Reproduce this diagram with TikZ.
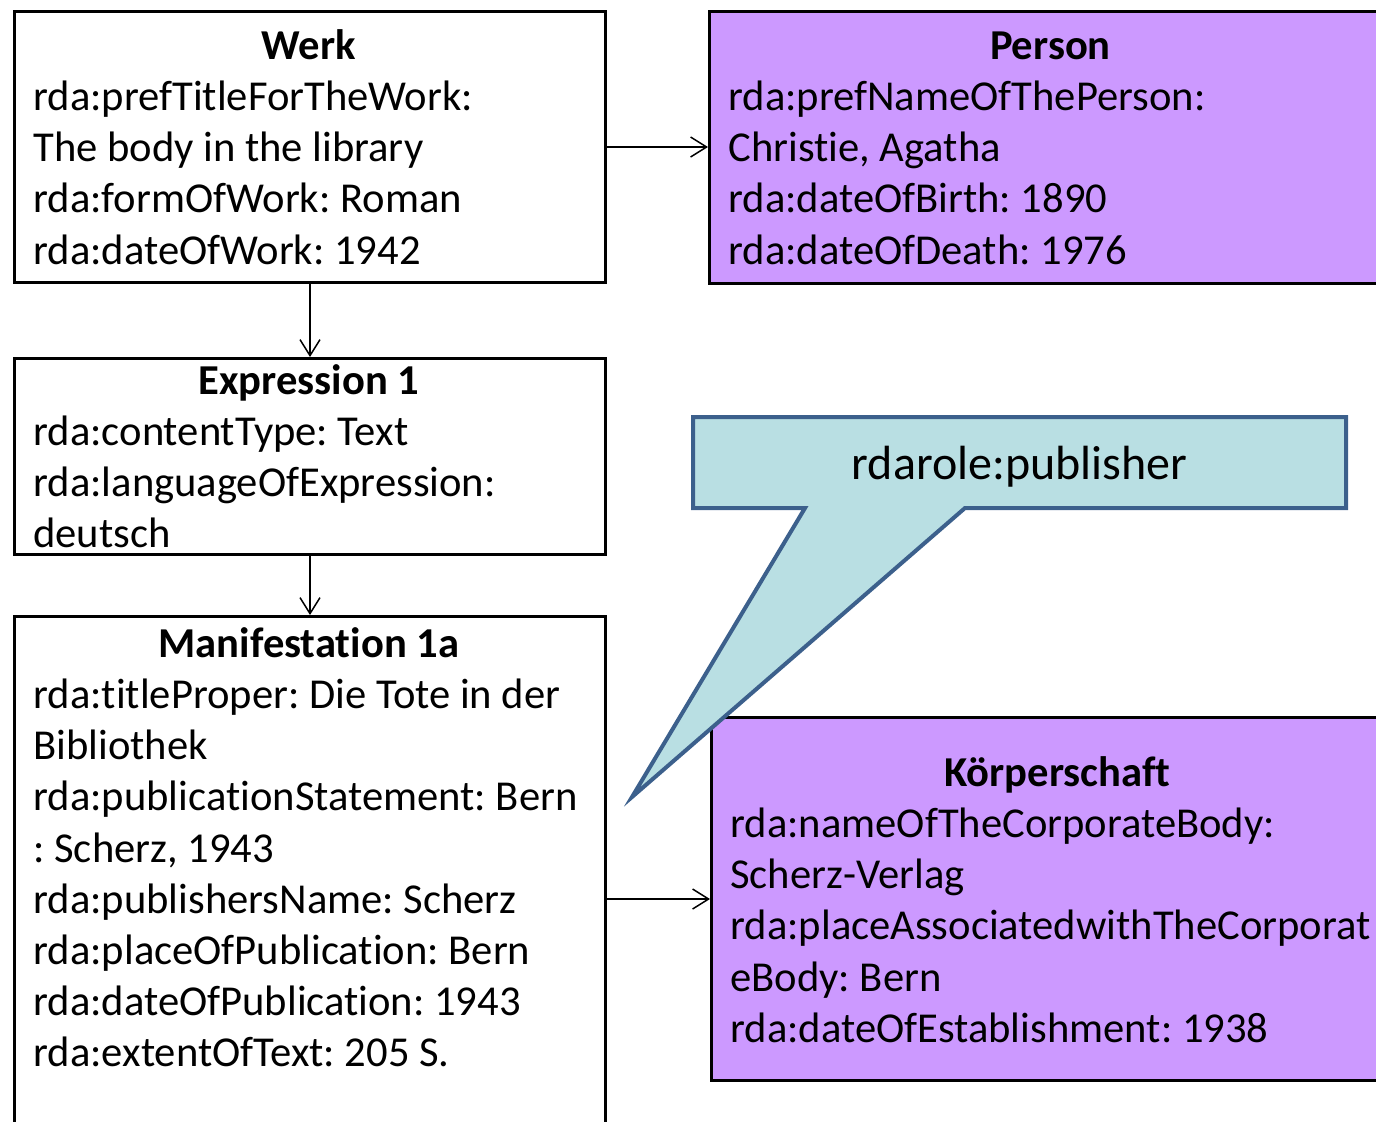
\documentclass[tikz,border=0pt]{standalone}
\usepackage{fontspec}
\setmainfont{Carlito}[Ligatures=NoCommon]
\usetikzlibrary{arrows.meta}
\definecolor{entpurple}{RGB}{204,153,255}
\definecolor{calloutfill}{RGB}{185,223,227}
\definecolor{calloutline}{RGB}{60,96,140}
\newcommand{\boxtitle}[1]{\spaceskip=0pt\xspaceskip=0pt{\centering\strut\textbf{#1}\par}}
\frenchspacing

\begin{document}
\begin{tikzpicture}[x=0.5pt,y=-0.5pt,
		every node/.style={font=\fontsize{21.3}{25.6}\selectfont},
		entity/.style={draw,line width=1.5pt,anchor=north west,inner sep=0pt},
		agent/.style={entity,fill=entpurple},
		entry/.style={anchor=north west,inner sep=0pt,align=left},
		link/.style={-{Straight Barb[length=8pt,width=10pt]},line width=0.75pt}]
	\clip (0,0) rectangle (1376,1121);
	% boxes
	\node[entity,minimum width=295.5pt,minimum height=135.5pt] (werk) at (13,10) {};
	\node[agent,minimum width=342pt,minimum height=136pt] (person) at (708,10) {};
	\node[entity,minimum width=295.5pt,minimum height=98pt] (expr) at (13,357) {};
	\node[entity,minimum width=295.5pt,minimum height=280pt] (mani) at (13,615) {};
	\node[agent,minimum width=347pt,minimum height=181.5pt] (koerp) at (710,716) {};
	% texts
	\node[entry,text width=275.5pt] (werktxt) at ([xshift=10pt,yshift=-6.5pt]werk.north west)
		{\boxtitle{Werk}rda:prefTitleForTheWork:\\The body in the library\\rda:formOfWork: Roman\\rda:dateOfWork: 1942};
	\node[entry,text width=322pt] (persontxt) at ([xshift=10pt,yshift=-6.5pt]person.north west)
		{\boxtitle{Person}rda:prefNameOfThePerson:\\Christie, Agatha\\rda:dateOfBirth: 1890\\rda:dateOfDeath: 1976};
	\node[entry,text width=275.5pt] (exprtxt) at ([xshift=10pt,yshift=-0.5pt]expr.north west)
		{\boxtitle{Expression 1}rda:contentType: Text\\rda:languageOfExpression:\\deutsch};
	\node[entry,text width=275.5pt] (manitxt) at ([xshift=10pt,yshift=-3pt]mani.north west)
		{\boxtitle{Manifestation 1a}rda:titleProper: Die Tote in der\\Bibliothek\\rda:publicationStatement: Bern\\: Scherz, 1943\\rda:publishersName: Scherz\\rda:placeOfPublication: Bern\\rda:dateOfPublication: 1943\\rda:extentOfText: 205 S.};
	\node[entry,text width=327pt] (koerptxt) at ([xshift=10pt,yshift=-17pt]koerp.north west)
		{\boxtitle{Körperschaft}rda:nameOfTheCorporateBody:\\Scherz-Verlag\\rda:placeAssociatedwithTheCorporat\\eBody: Bern\\rda:dateOfEstablishment: 1938};
	% relations
	\draw[link] (werk.east) -- (werk.east -| person.west);
	\draw[link] (werk.south) -- (expr.north);
	\draw[link] (expr.south) -- (mani.north);
	\draw[link] (koerp.west -| mani.east) -- (koerp.west);
	% callout
	\draw[line width=2pt,fill=calloutfill,draw=calloutline,line join=miter]
		(693,417) -- (1346,417) -- (1346,508) -- (965,508) -- (632,797) -- (805,508) -- (693,508) -- cycle;
	\node[font=\fontsize{24}{29}\selectfont] (role) at (1019.5,467) {rdarole:publisher};
\end{tikzpicture}
\end{document}
